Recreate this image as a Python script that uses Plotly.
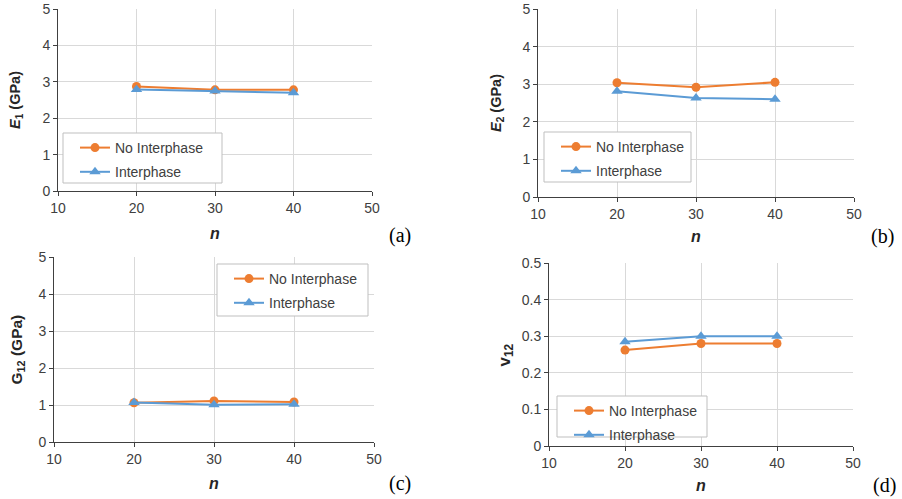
import plotly.graph_objects as go

n_values = [20, 30, 40]

E1_no_interphase = [2.87, 2.78, 2.78]
E1_interphase = [2.79, 2.75, 2.70]

E2_no_interphase = [3.04, 2.92, 3.05]
E2_interphase = [2.81, 2.63, 2.60]

G12_no_interphase = [1.06, 1.11, 1.08]
G12_interphase = [1.07, 1.01, 1.02]

v12_no_interphase = [0.262, 0.280, 0.280]
v12_interphase = [0.285, 0.300, 0.300]

series_names = ["No Interphase", "Interphase"]
panel_labels = ["(a)", "(b)", "(c)", "(d)"]
y_titles = ["<b><i>E</i><sub>1</sub> (GPa)</b>", "<b><i>E</i><sub>2</sub> (GPa)</b>",
            "<b>G<sub>12</sub> (GPa)</b>", "<b>v<sub>12</sub></b>"]
y_title_sizes = [14.5, 14.5, 15.5, 17]

W, H = 902, 499
ORANGE = "#ED7D31"
BLUE = "#5B9BD5"
FONT = "Liberation Sans, Arial, sans-serif"

# plot areas in pixels: (x0, x1, ytop, ybottom)
areas = [(58, 372, 9, 191), (538, 854, 9, 197), (54, 374, 257, 442), (549, 853, 263, 446)]
yranges = [[0, 5], [0, 5], [0, 5], [0, 0.5]]
ydticks = [1, 1, 1, 0.1]
data = [(E1_no_interphase, E1_interphase), (E2_no_interphase, E2_interphase),
        (G12_no_interphase, G12_interphase), (v12_no_interphase, v12_interphase)]
# legend frame boxes in pixels: (x0, y0, x1, y1)
leg_boxes = [(63, 133, 222, 183), (544, 132, 691, 182), (217, 264, 368, 316), (557, 396, 707, 437)]
ytitle_x = [16, 497, 17, 505]
xtitle_y = [233, 237, 483, 485]
plabel_pos = [(400, 235), (882, 237), (400, 483), (884, 485)]


def px(x):
    return x / W


def py(y):
    return 1 - y / H


fig = go.Figure()
layout = dict(width=W, height=H, margin=dict(l=0, r=0, t=0, b=0, autoexpand=False),
              paper_bgcolor="white", plot_bgcolor="white",
              font=dict(family=FONT, size=14, color="#404040"), showlegend=True)
shapes = []
annotations = []

for i in range(4):
    xa = "x" if i == 0 else f"x{i+1}"
    ya = "y" if i == 0 else f"y{i+1}"
    leg = "legend" if i == 0 else f"legend{i+1}"
    no_int, inter = data[i]
    fig.add_trace(go.Scatter(x=n_values, y=no_int, xaxis=xa, yaxis=ya, mode="lines+markers",
                             name=series_names[0], legend=leg, legendgroup=f"a{i}",
                             line=dict(color=ORANGE, width=2),
                             marker=dict(symbol="circle", size=9, color=ORANGE)))
    fig.add_trace(go.Scatter(x=n_values, y=inter, xaxis=xa, yaxis=ya, mode="lines+markers",
                             name=series_names[1], legend=leg, legendgroup=f"b{i}",
                             line=dict(color=BLUE, width=2),
                             marker=dict(symbol="triangle-up", size=10, color=BLUE)))
    x0, x1, yt, yb = areas[i]
    xkey = "xaxis" if i == 0 else f"xaxis{i+1}"
    ykey = "yaxis" if i == 0 else f"yaxis{i+1}"
    layout[xkey] = dict(domain=[px(x0), px(x1)], anchor=ya, range=[10, 50], dtick=10,
                        showgrid=True, gridcolor="#d9d9d9", gridwidth=1,
                        showline=True, linecolor="#404040", linewidth=1,
                        ticks="outside", ticklen=4, tickcolor="#404040",
                        zeroline=False, fixedrange=True, automargin=False,
                        tickfont=dict(size=14, color="#404040"))
    layout[ykey] = dict(domain=[py(yb), py(yt)], anchor=xa, range=yranges[i], dtick=ydticks[i],
                        showgrid=True, gridcolor="#d9d9d9", gridwidth=1,
                        showline=True, linecolor="#404040", linewidth=1,
                        ticks="outside", ticklen=4, tickcolor="#404040",
                        zeroline=False, fixedrange=True, automargin=False,
                        tickfont=dict(size=14, color="#404040"))
    bx0, by0, bx1, by1 = leg_boxes[i]
    shapes.append(dict(type="rect", xref="paper", yref="paper",
                       x0=px(bx0), x1=px(bx1), y0=py(by1), y1=py(by0),
                       line=dict(color="#bfbfbf", width=1), fillcolor="white", layer="above"))
    layout[leg] = dict(x=px(bx0 + 12), y=py(by0 - 1), xanchor="left", yanchor="top",
                       bgcolor="rgba(0,0,0,0)", borderwidth=0, tracegroupgap=3,
                       font=dict(family=FONT, size=14, color="#404040"))
    annotations.append(dict(text=y_titles[i], xref="paper", yref="paper",
                            x=px(ytitle_x[i]), y=py((yt + yb) / 2), textangle=-90,
                            showarrow=False, xanchor="center", yanchor="middle",
                            font=dict(family=FONT, size=y_title_sizes[i], color="#262626")))
    annotations.append(dict(text="<b><i>n</i></b>", xref="paper", yref="paper",
                            x=px((x0 + x1) / 2), y=py(xtitle_y[i]),
                            showarrow=False, xanchor="center", yanchor="middle",
                            font=dict(family=FONT, size=16, color="#262626")))
    lx, ly = plabel_pos[i]
    annotations.append(dict(text=panel_labels[i], xref="paper", yref="paper",
                            x=px(lx), y=py(ly), showarrow=False,
                            xanchor="center", yanchor="middle",
                            font=dict(family="Liberation Serif, Times New Roman, serif",
                                      size=20, color="black")))

layout["shapes"] = shapes
layout["annotations"] = annotations
fig.update_layout(**layout)
fig.write_html("out.html", config={"displayModeBar": False},
               post_script="document.body.style.margin='0px';")
